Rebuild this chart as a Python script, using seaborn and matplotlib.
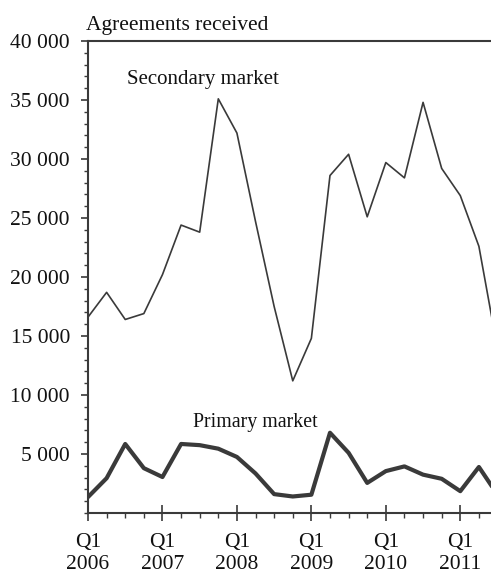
import pandas as pd
import numpy as np
import matplotlib.pyplot as plt
import seaborn as sns
from matplotlib.ticker import MultipleLocator, FuncFormatter

# quarterly data, Q1 2006 .. Q3 2011
quarters = ['2006Q1', '2006Q2', '2006Q3', '2006Q4',
            '2007Q1', '2007Q2', '2007Q3', '2007Q4',
            '2008Q1', '2008Q2', '2008Q3', '2008Q4',
            '2009Q1', '2009Q2', '2009Q3', '2009Q4',
            '2010Q1', '2010Q2', '2010Q3', '2010Q4',
            '2011Q1', '2011Q2', '2011Q3']
secondary = [16600, 18700, 16400, 16900, 20200, 24400, 23800, 35100,
             32200, 24700, 17500, 11200, 14800, 28600, 30400, 25100,
             29700, 28400, 34800, 29200, 26900, 22600, 13900]
primary = [1350, 2950, 5850, 3800, 3050, 5850, 5750, 5450,
           4750, 3350, 1600, 1400, 1550, 6800, 5100, 2550,
           3550, 3950, 3250, 2900, 1850, 3900, 1550]
year_labels = ['Q1\n2006', 'Q1\n2007', 'Q1\n2008', 'Q1\n2009', 'Q1\n2010', 'Q1\n2011']

df = pd.DataFrame({'idx': np.arange(len(quarters)),
                   'Secondary market': secondary,
                   'Primary market': primary})

sns.set_theme(style='ticks')
plt.rcParams['font.family'] = ['Liberation Serif', 'DejaVu Serif']
plt.rcParams['font.size'] = 15.5

col = '#3a3a3a'
fig = plt.figure(figsize=(4.91, 5.75), dpi=100)
ax = fig.add_axes([88 / 491, 1 - 513 / 575, 1 - 88 / 491, (513 - 41) / 575])

sns.lineplot(data=df, x='idx', y='Secondary market', ax=ax, color=col, linewidth=1.2)
sns.lineplot(data=df, x='idx', y='Primary market', ax=ax, color=col, linewidth=3.0)

ax.set_xlim(0, 21.65)
ax.set_ylim(0, 40000)
ax.set_xlabel('')
ax.set_ylabel('')

ax.set_xticks(np.arange(0, len(quarters), 4))
ax.set_xticklabels(year_labels, linespacing=1.2)
ax.xaxis.set_minor_locator(MultipleLocator(1))
ax.set_yticks(np.arange(5000, 40001, 5000))
ax.yaxis.set_major_formatter(FuncFormatter(lambda v, p: f'{int(v):,}'.replace(',', ' ')))
ax.yaxis.set_minor_locator(MultipleLocator(1000))

ax.tick_params(axis='x', which='major', direction='inout', length=11, width=1.2,
               color=col, labelcolor='#111111', labelsize=15.5, pad=9)
ax.tick_params(axis='x', which='minor', direction='out', length=3.5, width=1.0, color=col)
ax.tick_params(axis='y', which='major', direction='out', length=5, width=1.2,
               color=col, labelcolor='#111111', labelsize=15.5, pad=8)
ax.tick_params(axis='y', which='minor', direction='out', length=3, width=1.0, color=col)

for s in ['left', 'bottom', 'top']:
    ax.spines[s].set_linewidth(1.5)
    ax.spines[s].set_color(col)
ax.spines['right'].set_visible(False)

ax.text(2.1, 36700, 'Secondary market', fontsize=15, color='#111111', va='center', ha='left')
ax.text(5.65, 7650, 'Primary market', fontsize=14.3, color='#111111', va='center', ha='left')
ax.text(-0.005, 1.012, 'Agreements received', transform=ax.transAxes,
        fontsize=15.5, color='#111111', ha='left', va='bottom')

fig.savefig('out.png', dpi=100)
